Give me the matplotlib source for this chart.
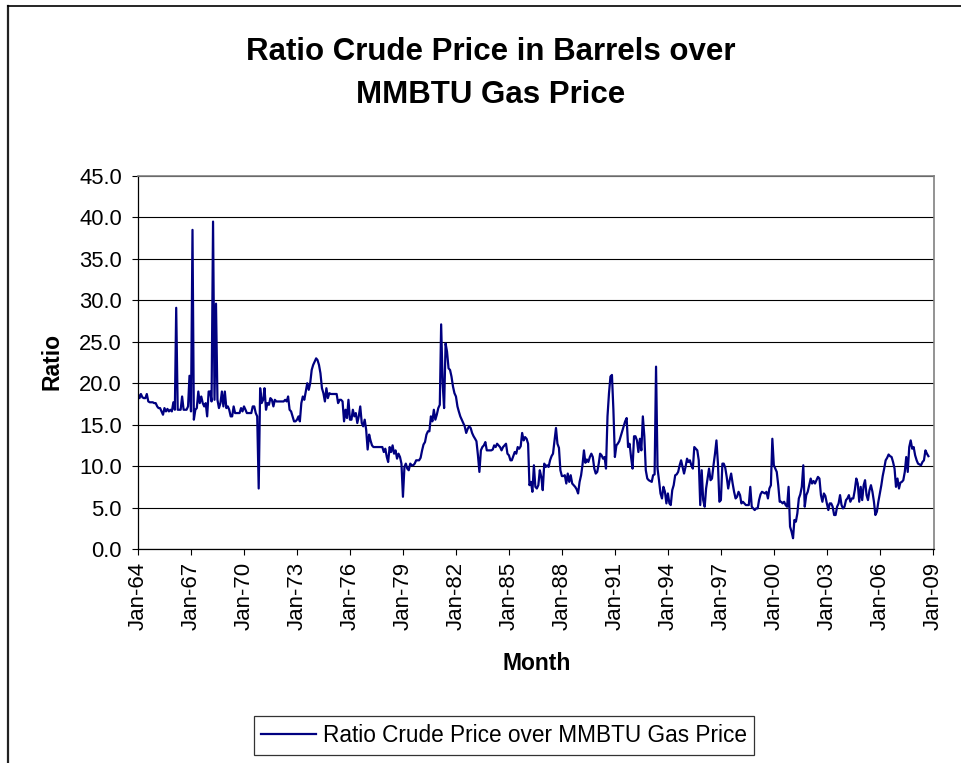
import matplotlib
matplotlib.use("Agg")
import matplotlib.pyplot as plt
import matplotlib.dates as mdates
from matplotlib.lines import Line2D
import pandas as pd
import datetime as dt

plt.rcParams['font.family'] = ['Liberation Sans', 'DejaVu Sans']

# monthly ratio values, one row per year
y1964 = [18.7, 18.2, 18.7, 18.3, 18.2, 18.2, 18.7, 17.8, 17.7, 17.7, 17.7, 17.6]
y1965 = [17.6, 17.2, 17.0, 17.0, 16.6, 16.2, 17.0, 16.6, 16.9, 16.6, 16.8, 16.6]
y1966 = [17.7, 16.8, 29.1, 16.8, 16.8, 16.8, 18.4, 16.8, 16.8, 16.8, 17.2, 20.9]
y1967 = [16.6, 38.5, 15.6, 16.8, 17.0, 19.0, 17.6, 18.4, 17.6, 17.2, 17.6, 16.0]
y1968 = [19.0, 19.0, 17.8, 39.5, 18.0, 29.6, 18.0, 17.0, 17.6, 19.0, 17.2, 19.0]
y1969 = [17.0, 17.2, 16.8, 16.0, 16.0, 17.2, 16.4, 16.4, 16.4, 16.4, 17.0, 16.6]
y1970 = [17.2, 16.8, 16.4, 16.4, 16.4, 16.4, 17.2, 17.2, 16.4, 16.0, 7.3, 19.4]
y1971 = [17.6, 18.0, 19.4, 16.8, 17.6, 17.4, 18.2, 18.0, 17.2, 18.0, 17.8, 17.8]
y1972 = [17.8, 17.8, 17.8, 17.8, 18.0, 17.8, 18.4, 16.8, 16.6, 16.0, 15.4, 15.4]
y1973 = [15.6, 16.0, 15.4, 17.6, 18.4, 18.0, 19.0, 20.0, 19.2, 20.0, 21.6, 22.2]
y1974 = [22.6, 23.0, 22.8, 22.2, 21.2, 19.4, 18.8, 17.8, 19.4, 18.2, 18.8, 18.7]
y1975 = [18.7, 18.7, 18.7, 18.7, 17.6, 18.0, 18.0, 17.8, 15.4, 16.8, 15.8, 18.0]
y1976 = [15.6, 15.6, 16.8, 16.0, 16.4, 15.2, 16.0, 17.2, 15.2, 14.8, 15.6, 14.4]
y1977 = [12.0, 13.8, 13.1, 12.5, 12.3, 12.3, 12.3, 12.3, 12.3, 12.3, 12.3, 11.7]
y1978 = [12.1, 11.1, 10.5, 12.3, 11.7, 12.5, 11.5, 11.9, 10.9, 11.5, 11.1, 10.3]
y1979 = [6.3, 9.9, 10.3, 9.7, 9.5, 10.3, 10.1, 10.1, 10.3, 10.7, 10.7, 10.7]
y1980 = [11.0, 11.9, 12.6, 12.9, 13.8, 14.2, 14.2, 16.0, 15.4, 16.8, 15.6, 16.2]
y1981 = [17.0, 17.4, 27.1, 20.0, 17.0, 24.8, 23.8, 21.8, 21.6, 20.8, 19.6, 18.8]
y1982 = [18.4, 17.2, 16.6, 16.0, 15.6, 15.2, 14.8, 14.0, 14.5, 14.8, 14.6, 14.0]
y1983 = [13.6, 13.3, 13.0, 11.3, 9.3, 11.9, 12.3, 12.5, 12.9, 11.9, 11.9, 11.9]
y1984 = [11.9, 12.0, 12.5, 12.3, 12.7, 12.5, 12.3, 11.9, 12.3, 12.5, 12.7, 11.5]
y1985 = [11.3, 10.7, 10.7, 11.2, 11.7, 11.5, 12.3, 12.1, 12.4, 14.0, 13.1, 13.5]
y1986 = [13.3, 12.7, 7.7, 8.1, 6.9, 10.1, 7.5, 7.3, 7.7, 9.5, 8.7, 7.1]
y1987 = [10.3, 9.9, 10.1, 9.9, 10.7, 11.2, 11.5, 13.1, 14.6, 12.7, 12.2, 9.5]
y1988 = [8.8, 8.8, 8.9, 7.9, 9.1, 8.1, 8.9, 7.9, 7.7, 7.5, 7.2, 6.7]
y1989 = [8.1, 8.9, 10.1, 11.9, 10.4, 10.8, 10.5, 11.1, 11.5, 11.1, 9.7, 9.1]
y1990 = [9.3, 10.3, 11.5, 11.3, 10.9, 11.1, 9.7, 16.0, 18.8, 20.8, 21.0, 16.8]
y1991 = [11.1, 12.5, 12.7, 13.0, 13.6, 14.2, 14.8, 15.4, 15.8, 12.3, 12.7, 11.1]
y1992 = [9.7, 13.6, 13.6, 13.1, 11.7, 13.3, 11.9, 16.0, 13.6, 9.5, 8.5, 8.3]
y1993 = [8.2, 8.1, 8.9, 9.0, 22.0, 9.7, 8.3, 6.7, 6.1, 7.5, 6.9, 5.5]
y1994 = [6.7, 5.5, 5.3, 7.1, 7.7, 8.9, 9.0, 9.3, 10.1, 10.7, 9.9, 9.1]
y1995 = [9.9, 10.9, 10.5, 10.7, 10.1, 9.7, 12.3, 12.1, 11.9, 10.7, 5.3, 9.5]
y1996 = [5.9, 5.1, 7.3, 8.5, 9.7, 8.3, 8.5, 10.1, 11.5, 13.1, 10.3, 5.7]
y1997 = [5.9, 10.3, 10.3, 9.8, 8.7, 7.3, 8.3, 9.1, 7.9, 6.9, 6.1, 6.3]
y1998 = [6.9, 6.5, 5.5, 5.7, 5.5, 5.3, 5.3, 5.3, 7.5, 5.1, 4.9, 4.7]
y1999 = [4.9, 4.9, 5.9, 6.6, 6.9, 6.8, 6.7, 6.9, 6.1, 7.3, 7.7, 13.3]
y2000 = [10.1, 9.7, 9.3, 7.7, 5.7, 5.7, 5.5, 5.7, 5.3, 5.1, 7.5, 2.7]
y2001 = [2.1, 1.3, 3.5, 3.3, 4.3, 6.1, 6.6, 7.5, 10.1, 5.1, 6.5, 6.9]
y2002 = [7.7, 8.5, 7.9, 8.2, 7.9, 8.3, 8.7, 8.5, 6.5, 5.7, 6.7, 6.4]
y2003 = [5.5, 4.7, 5.5, 5.5, 5.1, 4.1, 4.1, 5.1, 5.5, 6.5, 5.3, 4.9]
y2004 = [5.1, 5.9, 6.1, 6.5, 5.7, 6.1, 6.1, 7.1, 8.5, 7.9, 5.7, 7.5]
y2005 = [5.9, 7.7, 8.3, 6.5, 5.9, 7.1, 7.7, 6.9, 5.7, 4.1, 4.5, 5.7]
y2006 = [6.7, 7.7, 8.8, 9.7, 10.7, 11.0, 11.4, 11.2, 11.1, 10.5, 9.7, 7.5]
y2007 = [8.5, 7.3, 8.0, 8.1, 8.3, 9.3, 11.1, 9.3, 12.3, 13.1, 12.1, 12.3]
y2008 = [11.3, 10.7, 10.3, 10.2, 10.1, 10.5, 10.7, 11.9, 11.5, 11.2]

ratio = (y1964 + y1965 + y1966 + y1967 + y1968 + y1969 + y1970 + y1971 + y1972
         + y1973 + y1974 + y1975 + y1976 + y1977 + y1978 + y1979 + y1980 + y1981
         + y1982 + y1983 + y1984 + y1985 + y1986 + y1987 + y1988 + y1989 + y1990
         + y1991 + y1992 + y1993 + y1994 + y1995 + y1996 + y1997 + y1998 + y1999
         + y2000 + y2001 + y2002 + y2003 + y2004 + y2005 + y2006 + y2007 + y2008)
months = pd.date_range("1964-01-01", periods=len(ratio), freq="MS")

# x ticks every 3 years starting Jan-64
tick_years = list(range(1964, 2010, 3))

W, H = 962, 763
fig = plt.figure(figsize=(W / 100, H / 100), dpi=100)
ax = fig.add_axes([138 / W, 1 - 549 / H, (934 - 138) / W, (549 - 176) / H])

ax.plot(months, ratio, color='#000080', lw=1.6,
        label='Ratio Crude Price over MMBTU Gas Price')

ax.set_ylim(0, 45)
ax.set_yticks(range(0, 50, 5))
ax.yaxis.set_major_formatter(plt.FormatStrFormatter('%.1f'))
ax.set_xlim(dt.date(1964, 1, 1), dt.date(2009, 1, 25))
ax.set_xticks([dt.date(y, 1, 1) for y in tick_years])
ax.xaxis.set_major_formatter(mdates.DateFormatter('%b-%y'))
ax.yaxis.grid(True, color='black', lw=0.8)
ax.set_axisbelow(True)

ax.tick_params(axis='y', direction='out', length=4.5, width=0.8, pad=7, labelsize=15.8)
ax.tick_params(axis='x', direction='out', length=4, width=0.8, pad=5, labelsize=16,
               labelrotation=90)
for s in ['left', 'bottom']:
    ax.spines[s].set_color('black')
    ax.spines[s].set_linewidth(0.9)
for s in ['top', 'right']:
    ax.spines[s].set_color('#808080')
    ax.spines[s].set_linewidth(1.2)

fig.text(491 / W, 1 - 52 / H, 'Ratio Crude Price in Barrels over', ha='center', va='center',
         fontsize=22.5, fontweight='bold')
fig.text(491 / W, 1 - 95 / H, 'MMBTU Gas Price', ha='center', va='center',
         fontsize=22.5, fontweight='bold')
fig.text(52 / W, 1 - 362 / H, 'Ratio', rotation=90, ha='center', va='center',
         fontsize=16.5, fontweight='bold')
fig.text(537 / W, 1 - 663 / H, 'Month', ha='center', va='center',
         fontsize=16.5, fontweight='bold')

leg = fig.legend(loc='center', bbox_to_anchor=(504 / W, 1 - 735.5 / H), fontsize=16.3,
                 frameon=True, fancybox=False, edgecolor='black', handlelength=2.4,
                 handletextpad=0.3, borderpad=0.35)
leg.get_frame().set_linewidth(0.9)

# outer chart border (left and top edges visible)
fig.add_artist(Line2D([8 / W, 8 / W], [0, 1 - 6 / H], color='#222222', lw=1.6))
fig.add_artist(Line2D([8 / W, 1], [1 - 6 / H, 1 - 6 / H], color='black', lw=1.2))

fig.savefig('out.png', dpi=100)
